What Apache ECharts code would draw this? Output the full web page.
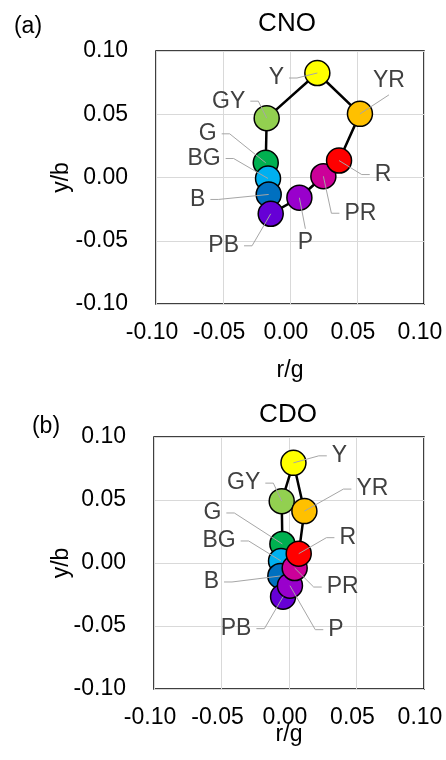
<!DOCTYPE html>
<html>
<head>
<meta charset="utf-8">
<script src="https://cdn.jsdelivr.net/npm/echarts@6/dist/echarts.min.js"></script>
<style>
html,body{margin:0;padding:0;background:#fff;}
#chart{width:446px;height:760px;}
</style>
</head>
<body>
<div id="chart"></div>
<script>
// ---- data ----
var names = ['GY', 'G', 'BG', 'B', 'PB', 'P', 'PR', 'R', 'YR', 'Y'];
var colors = ['#92D050', '#00B050', '#00B0F0', '#0070C0', '#6600D6', '#9900CC', '#CC0099', '#FF0000', '#FFC000', '#FFFF00'];
// (a) CNO
var cnoRG = [-0.0174, -0.0181, -0.0164, -0.0159, -0.0144, 0.0070, 0.0249, 0.0366, 0.0522, 0.0204];
var cnoYB = [0.0469, 0.0116, -0.0008, -0.0134, -0.0287, -0.0160, 0.0010, 0.0134, 0.0503, 0.0826];
// (b) CDO
var cdoRG = [-0.0054, -0.0049, -0.0059, -0.0064, -0.0044, 0.0007, 0.0042, 0.0072, 0.0114, 0.0033];
var cdoYB = [0.0491, 0.0151, 0.0016, -0.0103, -0.0267, -0.0180, -0.0040, 0.0074, 0.0412, 0.0795];
var tickValues = [-0.10, -0.05, 0.00, 0.05, 0.10];

// ---- label placement (pixel offsets of label centre from its marker) ----
var cnoLabelOffsets = [[-38,-17],[-58,-29],[-64,-20],[-71,5],[-47,32],[6,45],[37,37],[44,14],[29,-33],[-41,5]];
var cdoLabelOffsets = [[-38,-18],[-70,-31],[-62,-20],[-69,6],[-47,32],[46,44],[48,19],[49,-16],[68,-22],[46,-7]];

var FONT = '"Liberation Sans", Arial, sans-serif';
var LABEL_FONT_SIZE = 23;
var measureCtx = document.createElement('canvas').getContext('2d');
measureCtx.font = LABEL_FONT_SIZE + 'px ' + FONT;
function textWidth(t){ return measureCtx.measureText(t).width; }

function pairs(xs, ys){ return xs.map(function(x,i){ return [x, ys[i]]; }); }
function loop(xs, ys){ var p = pairs(xs, ys); p.push(p[0]); return p; }

function makeLabelRenderer(offsets){
  return function(params, api){
    var i = params.dataIndex;
    var p = api.coord([api.value(0), api.value(1)]);
    var off = offsets[i];
    var cx = p[0] + off[0], cy = p[1] + off[1];
    var txt = names[i];
    var hw = textWidth(txt) / 2;
    var pts;
    if (Math.abs(p[0] - cx) - hw < 15) {
      var ay = p[1] < cy ? cy - 14 : cy + 14;
      pts = [[cx, ay], [p[0], p[1]]];
    } else {
      var s = p[0] < cx ? -1 : 1;
      var ax = cx + s * (hw + 5);
      pts = [[ax, cy], [ax + s * 8, cy], [p[0], p[1]]];
    }
    return {
      type: 'group',
      children: [
        { type: 'polyline', shape: { points: pts }, style: { stroke: '#A6A6A6', lineWidth: 1, fill: 'none' } },
        { type: 'text', x: cx, y: cy, style: { text: txt, align: 'center', verticalAlign: 'middle', fill: '#404040', font: LABEL_FONT_SIZE + 'px ' + FONT } }
      ]
    };
  };
}

function axisCommon(extra){
  var a = {
    type: 'value', min: -0.1, max: 0.1, interval: 0.05,
    axisLine: { show: false }, axisTick: { show: false },
    splitLine: { show: true, lineStyle: { color: '#D9D9D9', width: 1 } },
    nameLocation: 'middle',
    nameMoveOverlap: false,
    nameTextStyle: { fontFamily: FONT, fontSize: 23, color: '#000' },
    axisLabel: { fontFamily: FONT, fontSize: 23, color: '#000', formatter: function(v){ return v.toFixed(2); } }
  };
  for (var k in extra) {
    if (typeof extra[k] === 'object' && a[k] && !Array.isArray(extra[k])) { for (var kk in extra[k]) a[k][kk] = extra[k][kk]; }
    else a[k] = extra[k];
  }
  return a;
}

var chart = echarts.init(document.getElementById('chart'), null, { renderer: 'canvas' });

var panels = [
  { rg: cnoRG, yb: cnoYB, offsets: cnoLabelOffsets },
  { rg: cdoRG, yb: cdoYB, offsets: cdoLabelOffsets }
];

var series = [];
panels.forEach(function(pn, k){
  series.push({
    type: 'line', xAxisIndex: k, yAxisIndex: k, data: loop(pn.rg, pn.yb),
    showSymbol: false, symbol: 'none', lineStyle: { color: '#000', width: 2.5 }, z: 2, silent: true, animation: false
  });
  series.push({
    type: 'scatter', xAxisIndex: k, yAxisIndex: k, data: pairs(pn.rg, pn.yb),
    symbol: 'circle', symbolSize: 25,
    itemStyle: { color: function(p){ return colors[p.dataIndex]; }, borderColor: '#000', borderWidth: 1.5, opacity: 1 },
    z: 3, silent: true, animation: false
  });
  series.push({
    type: 'custom', xAxisIndex: k, yAxisIndex: k, data: pairs(pn.rg, pn.yb),
    renderItem: makeLabelRenderer(pn.offsets), z: 4, silent: true, animation: false, clip: false
  });
});

var option = {
  animation: false,
  backgroundColor: '#fff',
  grid: [
    { left: 156, top: 51, width: 268, height: 253, show: true, borderColor: '#000', borderWidth: 1.5, backgroundColor: 'transparent' },
    { left: 154, top: 437, width: 270, height: 252, show: true, borderColor: '#000', borderWidth: 1.5, backgroundColor: 'transparent' }
  ],
  xAxis: [
    axisCommon({ gridIndex: 0, name: 'r/g', nameGap: 55, axisLabel: { margin: 17, padding: [0, 8, 0, 0] } }),
    axisCommon({ gridIndex: 1, name: 'r/g', nameGap: 34, axisLabel: { margin: 17, padding: [0, 8, 0, 0] } })
  ],
  yAxis: [
    axisCommon({ gridIndex: 0, name: 'y/b', nameGap: 83, axisLabel: { margin: 28 } }),
    axisCommon({ gridIndex: 1, name: 'y/b', nameGap: 81, axisLabel: { margin: 28 } })
  ],
  graphic: [
    { type: 'text', x: 287, y: 24, style: { text: 'CNO', font: '26px ' + FONT, fill: '#000', align: 'center', verticalAlign: 'middle' } },
    { type: 'text', x: 28, y: 27, style: { text: '(a)', font: '23px ' + FONT, fill: '#000', align: 'center', verticalAlign: 'middle' } },
    { type: 'text', x: 288, y: 415, style: { text: 'CDO', font: '26px ' + FONT, fill: '#000', align: 'center', verticalAlign: 'middle' } },
    { type: 'text', x: 46, y: 427, style: { text: '(b)', font: '23px ' + FONT, fill: '#000', align: 'center', verticalAlign: 'middle' } }
  ],
  series: series
};
chart.setOption(option);
</script>
</body>
</html>
